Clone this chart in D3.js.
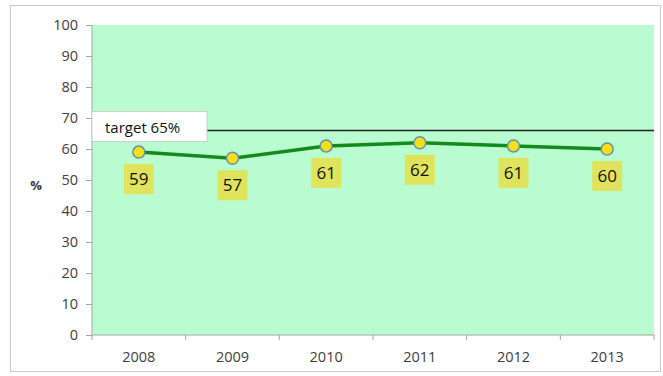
<!DOCTYPE html>
<html>
<head>
  <meta charset="utf-8" />
  <title>Target chart</title>
  <style>
    body { margin: 0; background: #fff; }
    text { font-family: "Open Sans", "Liberation Sans", sans-serif; }
  </style>
  <script src="https://cdnjs.cloudflare.com/ajax/libs/d3/7.8.5/d3.min.js"></script>
</head>
<body>
  <div id="chart"></div>
  <script>
    var years = ['2008', '2009', '2010', '2011', '2012', '2013'];
    var values = [59, 57, 61, 62, 61, 60];
    var yTicks = [0, 10, 20, 30, 40, 50, 60, 70, 80, 90, 100];
    var target = 65;
    var targetLabel = 'target 65%';

    var w = 663, h = 376;
    var plot = { left: 92, right: 654, top: 25, bottom: 335 };

    var svg = d3.select('#chart').append('svg')
      .attr('width', w)
      .attr('height', h);

    // outer frame
    svg.append('rect')
      .attr('x', 10.5).attr('y', 5.5)
      .attr('width', 650).attr('height', 366)
      .attr('fill', '#fff')
      .attr('stroke', '#c8c8c8');

    var x = d3.scaleBand()
      .domain(years)
      .range([plot.left, plot.right]);

    var y = d3.scaleLinear()
      .domain([0, 100])
      .range([plot.bottom, plot.top]);

    svg.append('rect')
      .attr('x', plot.left).attr('y', plot.top)
      .attr('width', plot.right - plot.left)
      .attr('height', plot.bottom - plot.top)
      .attr('fill', '#b9fcd0');

    // y axis
    var yAxis = svg.append('g')
      .attr('transform', 'translate(' + plot.left + ',0)')
      .call(d3.axisLeft(y).tickValues(yTicks).tickSize(6).tickPadding(8));
    yAxis.selectAll('path, line').attr('stroke', '#a6a6a6');
    yAxis.select('.domain').attr('d', 'M0,' + plot.top + 'V' + plot.bottom);
    yAxis.selectAll('text').attr('font-size', 14.5).attr('fill', '#404040');

    // x axis with ticks at category boundaries
    var xg = svg.append('g')
      .attr('transform', 'translate(0,' + plot.bottom + ')');
    xg.append('line')
      .attr('x1', plot.left).attr('x2', plot.right)
      .attr('stroke', '#a6a6a6');
    xg.selectAll('line.tick')
      .data(years.concat(['end']))
      .enter().append('line')
      .attr('class', 'tick')
      .attr('x1', (d, i) => i < years.length ? x(d) : x(years[years.length - 1]) + x.bandwidth())
      .attr('x2', (d, i) => i < years.length ? x(d) : x(years[years.length - 1]) + x.bandwidth())
      .attr('y1', 0).attr('y2', 5)
      .attr('stroke', '#a6a6a6');
    xg.selectAll('text')
      .data(years)
      .enter().append('text')
      .attr('x', d => x(d) + x.bandwidth() / 2)
      .attr('y', 27)
      .attr('text-anchor', 'middle')
      .attr('font-size', 14.5)
      .attr('fill', '#404040')
      .text(d => d);

    // % label
    svg.append('text')
      .attr('x', 36).attr('y', 190)
      .attr('text-anchor', 'middle')
      .attr('font-size', 13)
      .attr('font-weight', 'bold')
      .attr('fill', '#404040')
      .text('%');

    // target line and label
    var boxW = 115, boxH = 30;
    svg.append('line')
      .attr('x1', plot.left + boxW).attr('x2', plot.right)
      .attr('y1', y(target) - 3).attr('y2', y(target) - 3)
      .attr('stroke', '#222')
      .attr('stroke-width', 1.5);
    svg.append('rect')
      .attr('x', plot.left).attr('y', y(target) - 22)
      .attr('width', boxW).attr('height', boxH)
      .attr('fill', '#fff')
      .attr('stroke', '#cfcfcf');
    svg.append('text')
      .attr('x', plot.left + 13).attr('y', y(target) - 1)
      .attr('font-size', 15)
      .attr('fill', '#111')
      .text(targetLabel);

    var cx = d => x(d) + x.bandwidth() / 2;

    var line = d3.line()
      .x((d, i) => cx(years[i]))
      .y(d => y(d));

    svg.append('path')
      .datum(values)
      .attr('d', line)
      .attr('fill', 'none')
      .attr('stroke', '#138a1c')
      .attr('stroke-width', 3.5);

    svg.selectAll('circle.pt')
      .data(values)
      .enter().append('circle')
      .attr('class', 'pt')
      .attr('cx', (d, i) => cx(years[i]))
      .attr('cy', d => y(d))
      .attr('r', 6)
      .attr('fill', '#f2e01a')
      .attr('stroke', '#6d8fa6')
      .attr('stroke-width', 1.5);

    // data labels
    var lab = svg.selectAll('g.lab')
      .data(values)
      .enter().append('g')
      .attr('class', 'lab')
      .attr('transform', (d, i) => 'translate(' + cx(years[i]) + ',' + (y(d) + 27) + ')');
    lab.append('rect')
      .attr('x', -15).attr('y', -15)
      .attr('width', 30).attr('height', 30)
      .attr('fill', '#dfe45c');
    lab.append('text')
      .attr('text-anchor', 'middle')
      .attr('dy', '0.36em')
      .attr('font-size', 17)
      .attr('fill', '#111')
      .text(d => d);
  </script>
</body>
</html>
